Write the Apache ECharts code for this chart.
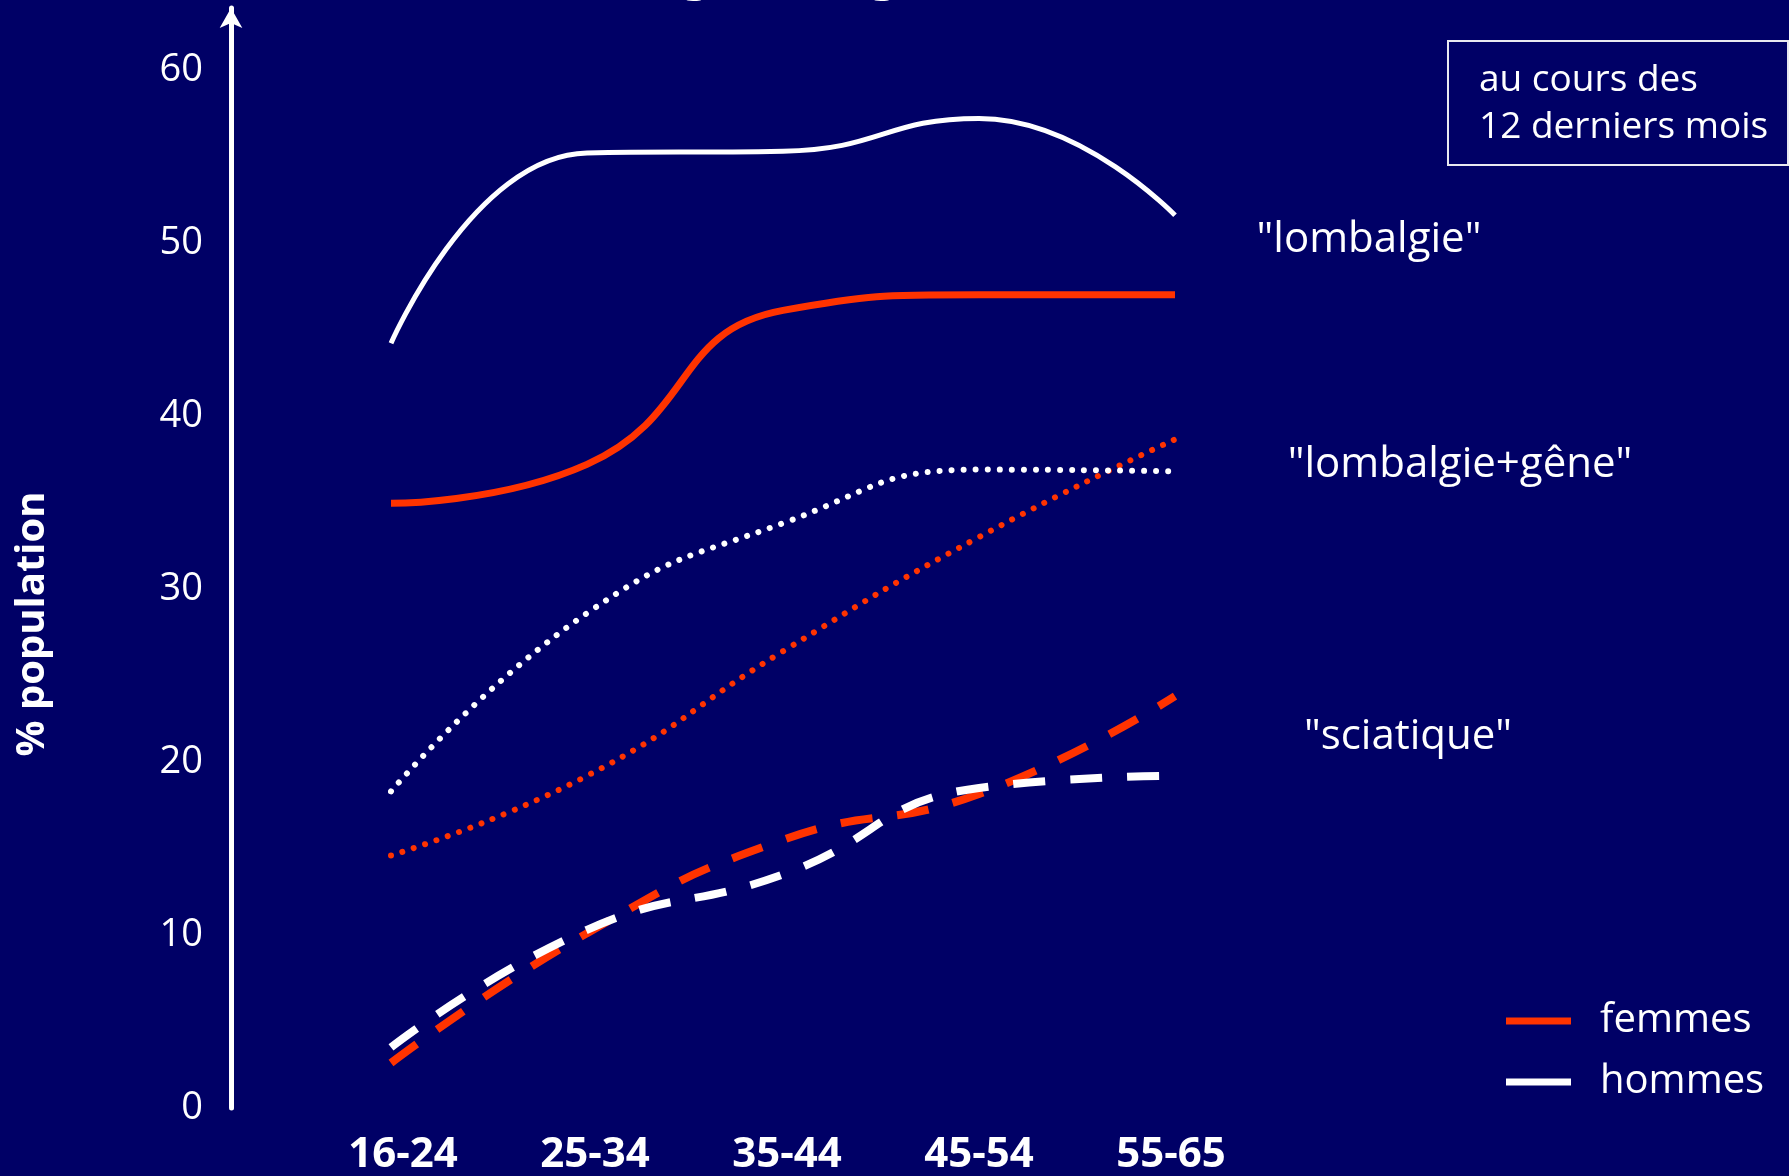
<!DOCTYPE html>
<html>
<head>
<meta charset="utf-8">
<script src="https://cdn.jsdelivr.net/npm/echarts@6/dist/echarts.min.js"></script>
<style>
  html, body { margin: 0; padding: 0; background: #000066; }
  #chart { width: 1789px; height: 1176px; }
</style>
</head>
<body>
<div id="chart"></div>
<script>
// Age groups on the horizontal axis
const ageGroups = ['16-24', '25-34', '35-44', '45-54', '55-65'];

// Prevalence (% of population) over the last 12 months
const lombalgieFemmes = [34.95, 37.2, 46.1, 47.0, 47.0];
const lombalgieHommes = [44.2, 55.2, 55.3, 57.2, 51.6];
const gemeFemmes      = [14.6, 19.2, 26.4, 33.0, 38.65];
const gemeHommes      = [18.3, 28.6, 33.8, 36.9, 36.8];
const sciatiqueFemmes = [2.6, 10.1, 15.5, 18.15, 23.8];
const sciatiqueHommes = [3.5, 10.3, 13.5, 18.5, 19.2];

// Vertical axis ticks
const yTicks = [0, 10, 20, 30, 40, 50, 60];

const RED = '#FF3300';
const WHITE = '#FFFFFF';
const FONT = 'Open Sans';

function lineSeries(name, data, color, width, type, cap) {
  return {
    name: name,
    type: 'line',
    xAxisIndex: 0,
    yAxisIndex: 0,
    data: data,
    smooth: true,
    symbol: 'none',
    silent: true,
    color: color,
    itemStyle: { color: color },
    lineStyle: { color: color, width: width, type: type, cap: cap || 'butt' },
    z: 3
  };
}

const chart = echarts.init(document.getElementById('chart'), null, { renderer: 'canvas' });

chart.setOption({
  backgroundColor: '#000066',
  animation: false,
  grid: [
    // plotting area of the curves
    { left: 391, right: 614, top: 8, bottom: 68, containLabel: false },
    // slightly narrower band carrying the age-group labels
    { left: 403, right: 618, top: 8, bottom: 68, containLabel: false }
  ],
  xAxis: [
    {
      type: 'category',
      gridIndex: 0,
      data: ageGroups,
      boundaryGap: false,
      axisLine: { show: false },
      axisTick: { show: false },
      splitLine: { show: false },
      axisLabel: { show: false }
    },
    {
      type: 'category',
      gridIndex: 1,
      data: ageGroups,
      boundaryGap: false,
      axisLine: { show: false },
      axisTick: { show: false },
      splitLine: { show: false },
      axisLabel: {
        color: WHITE,
        fontFamily: FONT,
        fontWeight: 'bold',
        fontSize: 42,
        margin: 29
      }
    }
  ],
  yAxis: [
    {
      type: 'value',
      gridIndex: 0,
      min: yTicks[0],
      max: 63.58,
      interval: 10,
      offset: 160,
      splitLine: { show: false },
      axisTick: { show: false },
      axisLine: {
        show: true,
        lineStyle: { color: WHITE, width: 5 },
        symbol: ['none', 'arrow'],
        symbolSize: [17, 20]
      },
      axisLabel: {
        color: WHITE,
        fontFamily: FONT,
        fontSize: 38,
        margin: 28,
        showMaxLabel: false,
        formatter: function (v) { return yTicks.indexOf(v) >= 0 ? String(v) : ''; }
      }
    },
    {
      type: 'value',
      gridIndex: 1,
      min: 0,
      max: 60,
      show: false
    }
  ],
  legend: {
    orient: 'vertical',
    left: 1501,
    top: 994,
    itemWidth: 65,
    itemHeight: 7,
    itemGap: 17,
    icon: 'rect',
    selectedMode: false,
    itemStyle: { borderWidth: 0 },
    lineStyle: { type: 'solid' },
    data: [
      { name: 'femmes', icon: 'rect', itemStyle: { color: RED, borderWidth: 0 } },
      { name: 'hommes', icon: 'rect', itemStyle: { color: WHITE, borderWidth: 0 } }
    ],
    textStyle: {
      color: WHITE,
      fontFamily: FONT,
      fontSize: 40,
      lineHeight: 44,
      padding: [0, 0, 0, 24]
    }
  },
  series: [
    lineSeries('femmes', lombalgieFemmes, RED, 7, 'solid'),
    lineSeries('hommes', lombalgieHommes, WHITE, 5, 'solid'),
    lineSeries('femmes', gemeFemmes, RED, 6, [0.01, 12], 'round'),
    lineSeries('hommes', gemeHommes, WHITE, 6, [0.01, 12], 'round'),
    lineSeries('femmes', sciatiqueFemmes, RED, 8, [32, 25]),
    lineSeries('hommes', sciatiqueHommes, WHITE, 8, [32, 25])
  ],
  graphic: [
    // Slide title, running off the top edge
    {
      type: 'text', left: 488, top: -53, silent: true,
      style: { text: 'Lombalgie et âge', fill: WHITE, fontFamily: FONT, fontWeight: 'bold', fontSize: 52 }
    },
    // Vertical axis title
    {
      type: 'text', x: 33, y: 624, rotation: Math.PI / 2, silent: true,
      style: {
        text: '% population', fill: WHITE, fontFamily: FONT, fontWeight: 'bold', fontSize: 40,
        textAlign: 'center', textVerticalAlign: 'middle'
      }
    },
    // Period box
    {
      type: 'rect', silent: true,
      shape: { x: 1448, y: 41, width: 340, height: 124 },
      style: { fill: 'none', stroke: '#E8E8F0', lineWidth: 2 }
    },
    {
      type: 'text', x: 1479, y: 80, silent: true,
      style: { text: 'au cours des', fill: WHITE, fontFamily: FONT, fontSize: 37, textAlign: 'left', textVerticalAlign: 'middle' }
    },
    {
      type: 'text', x: 1479, y: 127, silent: true,
      style: { text: '12 derniers mois', fill: WHITE, fontFamily: FONT, fontSize: 37, textAlign: 'left', textVerticalAlign: 'middle' }
    },
    // Curve group labels
    {
      type: 'text', x: 1369, y: 240, silent: true,
      style: { text: '"lombalgie"', fill: WHITE, fontFamily: FONT, fontSize: 42, textAlign: 'center', textVerticalAlign: 'middle' }
    },
    {
      type: 'text', x: 1460, y: 465, silent: true,
      style: { text: '"lombalgie+gêne"', fill: WHITE, fontFamily: FONT, fontSize: 42, textAlign: 'center', textVerticalAlign: 'middle' }
    },
    {
      type: 'text', x: 1408, y: 737, silent: true,
      style: { text: '"sciatique"', fill: WHITE, fontFamily: FONT, fontSize: 42, textAlign: 'center', textVerticalAlign: 'middle' }
    }
  ]
});
</script>
</body>
</html>
